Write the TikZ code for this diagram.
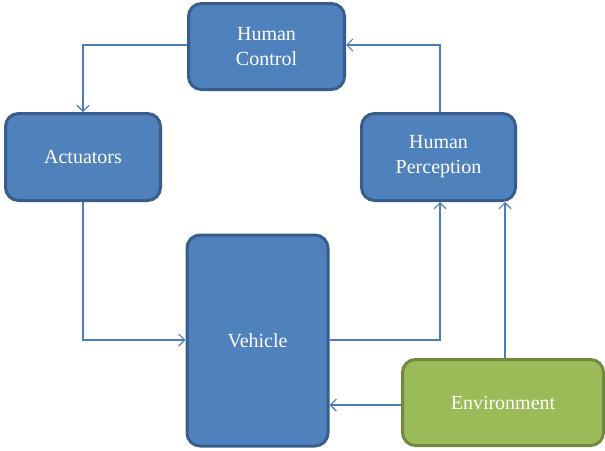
\documentclass[tikz,border=0pt]{standalone}
\usepackage{fontspec}
\setmainfont{Liberation Serif}
\usetikzlibrary{arrows.meta}
\definecolor{boxfill}{HTML}{4F81BD}
\definecolor{boxline}{HTML}{385D8A}
\definecolor{envfill}{HTML}{9BBB59}
\definecolor{envline}{HTML}{71893F}
\definecolor{arrowcol}{HTML}{4A7EBB}
\tikzset{
  blockbox/.style={draw=boxline, fill=boxfill, line width=3pt, rounded corners=13pt,
    text=white, align=center, font=\fontsize{20}{25}\selectfont, inner sep=0pt},
  envbox/.style={blockbox, draw=envline, fill=envfill},
  conn/.style={draw=arrowcol, line width=1.2pt, -{Straight Barb[length=6pt,width=12pt]}}
}
\begin{document}
\begin{tikzpicture}[x=1pt,y=-1pt]
\useasboundingbox (0,0) rectangle (605,450);
\node[blockbox, minimum width=156pt, minimum height=86pt] (hc) at (266.5,46.5) {Human\\Control};
\node[blockbox, minimum width=155pt, minimum height=87pt] (act) at (83,157) {Actuators};
\node[blockbox, minimum width=154pt, minimum height=87pt] (hp) at (438.5,157) {Human\\Perception};
\node[blockbox, minimum width=141pt, minimum height=211pt] (veh) at (257.5,340.5) {Vehicle};
\node[envbox, minimum width=201pt, minimum height=86pt] (env) at (503,402.5) {Environment};
\coordinate (c1) at (83,45);
\coordinate (c2) at (83,340);
\coordinate (c3) at (440,340);
\coordinate (c4) at (440,45);
\draw[conn] (hc.west |- c1) -- (c1) -- (act.north);
\draw[conn] (act.south) -- (c2) -- (veh.west |- c2);
\draw[conn] (veh.east |- c3) -- (c3) -- (c3 |- hp.south);
\draw[conn] (env.north -| 505,0) -- (505,0 |- hp.south);
\draw[conn] (env.west |- 0,405) -- (veh.east |- 0,405);
\draw[conn] (hp.north -| c4) -- (c4) -- (hc.east |- c4);
\end{tikzpicture}
\end{document}
